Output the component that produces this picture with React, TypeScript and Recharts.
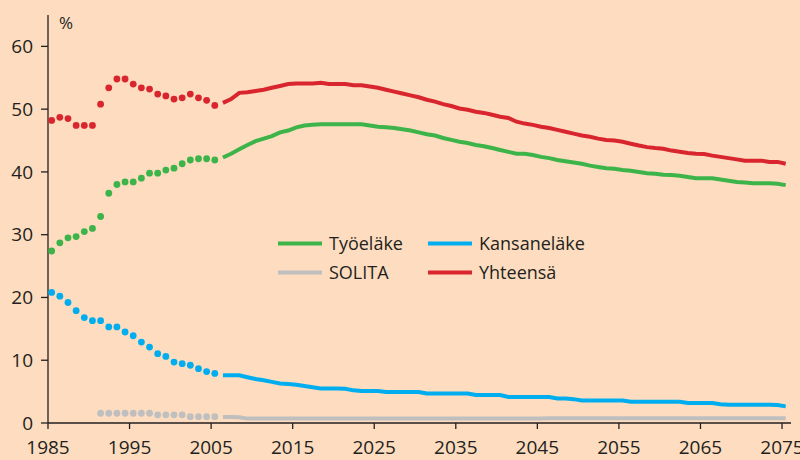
import React from 'react';
import { LineChart, Line, XAxis, YAxis } from 'recharts';

// Historical (dotted) values, 1985-2005
const histYears = [1985, 1986, 1987, 1988, 1989, 1990, 1991, 1992, 1993, 1994, 1995, 1996, 1997, 1998, 1999, 2000, 2001, 2002, 2003, 2004, 2005];
const tyoHist = [27.4, 28.7, 29.5, 29.7, 30.5, 31.0, 32.9, 36.6, 38.0, 38.4, 38.4, 39.0, 39.8, 39.8, 40.3, 40.6, 41.3, 41.9, 42.1, 42.1, 41.9];
const kansHist = [20.8, 20.2, 19.2, 17.9, 16.8, 16.3, 16.3, 15.3, 15.3, 14.5, 13.9, 12.9, 12.1, 11.05, 10.6, 9.7, 9.45, 9.2, 8.65, 8.2, 7.9];
const solHist: (number | null)[] = [null, null, null, null, null, null, 1.55, 1.55, 1.55, 1.55, 1.55, 1.55, 1.55, 1.3, 1.3, 1.3, 1.3, 1.0, 1.0, 1.0, 1.0];
const totHist = [48.2, 48.7, 48.5, 47.4, 47.4, 47.4, 50.8, 53.4, 54.8, 54.8, 54.0, 53.4, 53.2, 52.4, 52.1, 51.6, 51.8, 52.4, 51.8, 51.4, 50.6];

// Projection (solid) values, 2006-2075
const projStartYear = 2006;
const tyoProj = [
  42.3, 42.9, 43.6, 44.3, 44.9, 45.3, 45.7, 46.3, 46.6, 47.1,
  47.4, 47.5, 47.6, 47.6, 47.6, 47.6, 47.6, 47.6, 47.4, 47.2,
  47.1, 47.0, 46.8, 46.6, 46.3, 46.0, 45.8, 45.4, 45.1, 44.8,
  44.6, 44.3, 44.1, 43.8, 43.5, 43.2, 42.9, 42.9, 42.7, 42.4,
  42.2, 41.9, 41.7, 41.5, 41.3, 41.0, 40.8, 40.6, 40.5, 40.3,
  40.2, 40.0, 39.8, 39.7, 39.55, 39.5, 39.4, 39.2, 39.0, 39.0,
  39.0, 38.8, 38.6, 38.4, 38.3, 38.2, 38.2, 38.2, 38.1, 37.9,
];
const kansProj = [
  7.6, 7.6, 7.6, 7.3, 7.0, 6.8, 6.55, 6.3, 6.2, 6.1,
  5.9, 5.7, 5.5, 5.5, 5.5, 5.45, 5.2, 5.1, 5.1, 5.1,
  4.95, 4.95, 4.95, 4.95, 4.95, 4.7, 4.7, 4.7, 4.7, 4.7,
  4.7, 4.45, 4.45, 4.45, 4.45, 4.15, 4.15, 4.15, 4.15, 4.15,
  4.15, 3.9, 3.9, 3.8, 3.6, 3.6, 3.6, 3.6, 3.6, 3.6,
  3.4, 3.4, 3.4, 3.4, 3.4, 3.4, 3.4, 3.2, 3.2, 3.2,
  3.2, 3.0, 2.9, 2.9, 2.9, 2.9, 2.9, 2.9, 2.85, 2.65,
];
const solProj = [
  0.96, 0.96, 0.9, 0.7, 0.7, 0.7, 0.7, 0.7, 0.7, 0.7,
  0.7, 0.7, 0.7, 0.7, 0.7, 0.7, 0.7, 0.7, 0.7, 0.7,
  0.7, 0.7, 0.7, 0.7, 0.7, 0.7, 0.7, 0.7, 0.7, 0.7,
  0.72, 0.72, 0.72, 0.72, 0.72, 0.72, 0.72, 0.72, 0.72, 0.72,
  0.74, 0.74, 0.74, 0.74, 0.74, 0.74, 0.74, 0.74, 0.74, 0.74,
  0.75, 0.75, 0.75, 0.75, 0.75, 0.75, 0.75, 0.75, 0.75, 0.75,
  0.75, 0.75, 0.75, 0.75, 0.75, 0.75, 0.75, 0.75, 0.75, 0.75,
];
const totProj = [
  51.0, 51.6, 52.6, 52.7, 52.9, 53.1, 53.4, 53.7, 54.0, 54.1,
  54.1, 54.1, 54.2, 54.0, 54.0, 54.0, 53.8, 53.8, 53.6, 53.4,
  53.1, 52.8, 52.5, 52.2, 51.9, 51.5, 51.2, 50.8, 50.5, 50.1,
  49.9, 49.6, 49.4, 49.1, 48.8, 48.6, 48.0, 47.7, 47.5, 47.2,
  47.0, 46.7, 46.4, 46.1, 45.8, 45.6, 45.3, 45.1, 45.0, 44.8,
  44.5, 44.2, 43.95, 43.8, 43.7, 43.4, 43.2, 43.0, 42.9, 42.85,
  42.6, 42.4, 42.2, 42.0, 41.8, 41.8, 41.8, 41.6, 41.6, 41.3,
];

const xTicks = [1985, 1995, 2005, 2015, 2025, 2035, 2045, 2055, 2065, 2075];
const yTicks = [0, 10, 20, 30, 40, 50, 60];

const COLORS = {
  tyo: '#3db449',
  kans: '#00aeef',
  sol: '#bfbfbf',
  tot: '#d9262e',
};
const BG = '#fddcbf';
const INK = '#231f20';
const FONT = '"Open Sans", "Noto Sans", sans-serif';

const legendItems = [
  { name: 'Työeläke', color: COLORS.tyo },
  { name: 'Kansaneläke', color: COLORS.kans },
  { name: 'SOLITA', color: COLORS.sol },
  { name: 'Yhteensä', color: COLORS.tot },
];

type Row = {
  year: number;
  tyoH?: number | null;
  kansH?: number | null;
  solH?: number | null;
  totH?: number | null;
  tyoP?: number | null;
  kansP?: number | null;
  solP?: number | null;
  totP?: number | null;
};

const data: Row[] = [];
histYears.forEach((y, i) => {
  data.push({ year: y, tyoH: tyoHist[i], kansH: kansHist[i], solH: solHist[i], totH: totHist[i] });
});
tyoProj.forEach((v, i) => {
  data.push({ year: projStartYear + i, tyoP: v, kansP: kansProj[i], solP: solProj[i], totP: totProj[i] });
});

const dotStyle = (color: string) => ({ r: 3.4, fill: color, stroke: 'none', strokeWidth: 0 });

export default function App() {
  const tickStyle = { fontFamily: FONT, fontSize: 19, fill: INK };
  return (
    <div style={{ position: 'absolute', left: 0, top: 0, width: 800, height: 460, background: BG, overflow: 'hidden' }}>
      <LineChart width={800} height={460} data={data} margin={{ top: 15, right: 9, bottom: 0, left: 0 }}>
        <XAxis
          xAxisId="d"
          dataKey="year"
          type="number"
          domain={[1984.55, 2075.65]}
          allowDataOverflow
          orientation="top"
          height={0}
          hide
        />
        <XAxis
          xAxisId="t"
          dataKey="year"
          type="number"
          domain={[1985, 2076.1]}
          allowDataOverflow
          ticks={xTicks}
          interval={0}
          tick={tickStyle}
          tickSize={6}
          tickMargin={12}
          height={37}
          axisLine={{ stroke: INK, strokeWidth: 1.3 }}
          tickLine={{ stroke: INK, strokeWidth: 1.3 }}
        />
        <YAxis
          type="number"
          domain={[0, 65]}
          ticks={yTicks}
          interval={0}
          width={48}
          tick={tickStyle}
          tickSize={7}
          tickMargin={8}
          axisLine={{ stroke: INK, strokeWidth: 1.3 }}
          tickLine={{ stroke: INK, strokeWidth: 1.3 }}
        />
        {/* Invisible helper series that binds the tick axis to the data */}
        <Line xAxisId="t" dataKey="tyoP" stroke="none" dot={false} activeDot={false} legendType="none" isAnimationActive={false} />
        {/* Projections */}
        <Line xAxisId="d" dataKey="solP" stroke={COLORS.sol} strokeWidth={4} dot={false} isAnimationActive={false} connectNulls={false} />
        <Line xAxisId="d" dataKey="kansP" stroke={COLORS.kans} strokeWidth={4} dot={false} isAnimationActive={false} connectNulls={false} />
        <Line xAxisId="d" dataKey="tyoP" stroke={COLORS.tyo} strokeWidth={4} dot={false} isAnimationActive={false} connectNulls={false} />
        <Line xAxisId="d" dataKey="totP" stroke={COLORS.tot} strokeWidth={4} dot={false} isAnimationActive={false} connectNulls={false} />
        {/* Historical dots */}
        <Line xAxisId="d" dataKey="solH" stroke="none" dot={dotStyle(COLORS.sol)} isAnimationActive={false} activeDot={false} />
        <Line xAxisId="d" dataKey="kansH" stroke="none" dot={dotStyle(COLORS.kans)} isAnimationActive={false} activeDot={false} />
        <Line xAxisId="d" dataKey="tyoH" stroke="none" dot={dotStyle(COLORS.tyo)} isAnimationActive={false} activeDot={false} />
        <Line xAxisId="d" dataKey="totH" stroke="none" dot={dotStyle(COLORS.tot)} isAnimationActive={false} activeDot={false} />
      </LineChart>
      <svg width={800} height={460} style={{ position: 'absolute', left: 0, top: 0, pointerEvents: 'none' }}>
        <text x={59} y={29} fontFamily={FONT} fontSize={17} fill={INK}>%</text>
        {legendItems.map((it, i) => {
          const col = i % 2;
          const row = Math.floor(i / 2);
          const lx = col === 0 ? 278 : 428;
          const ly = row === 0 ? 243.5 : 272.5;
          return (
            <g key={it.name}>
              <line x1={lx} x2={lx + 44} y1={ly} y2={ly} stroke={it.color} strokeWidth={4} />
              <text x={lx + 51} y={ly + 6.5} fontFamily={FONT} fontSize={18} fill={INK}>{it.name}</text>
            </g>
          );
        })}
      </svg>
    </div>
  );
}
